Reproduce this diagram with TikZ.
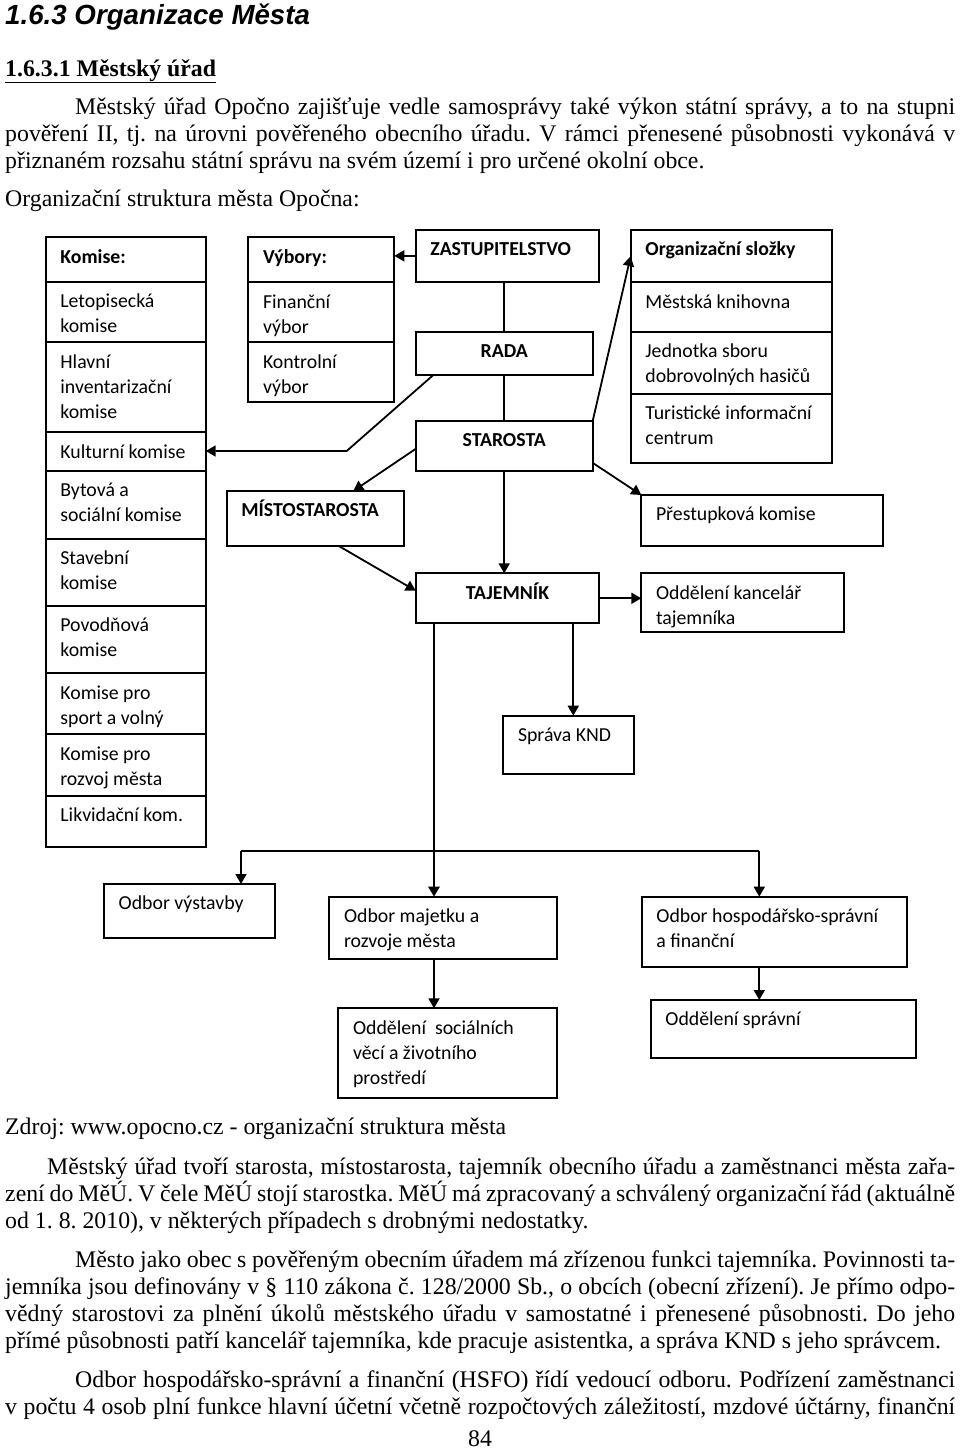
\documentclass[tikz,border=0pt]{standalone}
\usepackage{fontspec}
\setmainfont{Liberation Serif}
\newfontfamily\diagfont{Carlito}
\newfontfamily\headfont{Liberation Sans}
\usetikzlibrary{arrows.meta}
\newcommand\orgfont{\diagfont\fontsize{19.8}{25}\selectfont}
\newcommand\bodyfont{\fontsize{23.8}{27}\selectfont}
\frenchspacing
\begin{document}
\begin{tikzpicture}[x=1pt,y=-1pt,>={Triangle[length=10pt,width=11pt]},
  cell/.style={draw,line width=1.8pt,inner sep=0pt,outer sep=0pt},
  lbl/.style={inner sep=0pt,anchor=north west,align=left,font=\orgfont},
  txt/.style={inner sep=0pt,anchor=base west,font=\bodyfont},
  link/.style={->,line width=1.8pt}]
 \useasboundingbox (0,0) rectangle (960,1449);
 % box: name, left, top, right, bottom, text
 \def\orgcell#1#2#3#4#5#6{%
  \node[cell,minimum width=#4-#2,minimum height=#5-#3] (#1) at ({(#2+#4)/2},{(#3+#5)/2}) {};
  \node[lbl] (#1-t) at ([xshift=14.5pt,yshift=-8pt]#1.north west) {\strut#6};}
 \def\orgcellc#1#2#3#4#5#6{%
  \node[cell,minimum width=#4-#2,minimum height=#5-#3] (#1) at ({(#2+#4)/2},{(#3+#5)/2}) {};
 \node[lbl,anchor=north] (#1-t) at ([yshift=-8pt]#1.north) {\strut#6};}

 \node[txt] (h1) at (5,24) {\headfont\bfseries\itshape\fontsize{27.7}{30}\selectfont 1.6.3 Organizace Města};
 \node[txt] (h2) at (5,76) {\textbf{\underline{1.6.3.1 Městský úřad}}};
 \node[txt] (p1a) at (75,114) {\makebox[880pt][s]{Městský úřad Opočno zajišťuje vedle samosprávy také výkon státní správy, a to na stupni}};
 \node[txt] (p1b) at (5,141) {\makebox[950pt][s]{pověření II, tj. na úrovni pověřeného obecního úřadu. V rámci přenesené působnosti vykonává v}};
 \node[txt] (p1c) at (5,168) {přiznaném rozsahu státní správu na svém území i pro určené okolní obce.};
 \node[txt] (cap) at (5,206) {Organizační struktura města Opočna:};

 % komise
 \orgcell{k0}{45.7}{237.3}{205.7}{281.7}{\textbf{Komise:}}
 \orgcell{k1}{45.7}{281.7}{205.7}{342.3}{Letopisecká\\komise}
 \orgcell{k2}{45.7}{342.3}{205.7}{432.3}{Hlavní\\inventarizační\\komise}
 \orgcell{k3}{45.7}{432.3}{205.7}{470.7}{Kulturní komise}
 \orgcell{k4}{45.7}{470.7}{205.7}{539}{Bytová a\\sociální komise}
 \orgcell{k5}{45.7}{539}{205.7}{605.7}{Stavební\\komise}
 \orgcell{k6}{45.7}{605.7}{205.7}{673.3}{Povodňová\\komise}
 \orgcell{k7}{45.7}{673.3}{205.7}{734.3}{Komise pro\\sport a volný}
 \orgcell{k8}{45.7}{734.3}{205.7}{795.7}{Komise pro\\rozvoj města}
 \orgcell{k9}{45.7}{795.7}{205.7}{847.3}{Likvidační kom.}
 % vybory
 \orgcell{v0}{248.3}{237.3}{394.3}{282.3}{\textbf{Výbory:}}
 \orgcell{v1}{248.3}{282.3}{394.3}{342.3}{Finanční\\výbor}
 \orgcell{v2}{248.3}{342.3}{394.3}{402.3}{Kontrolní\\výbor}
 % vedeni
 \orgcell{zast}{415.7}{230}{599.3}{281.7}{\textbf{ZASTUPITELSTVO}}
 \orgcellc{rada}{415.7}{331.7}{592.7}{375}{\textbf{RADA}}
 \orgcellc{star}{415.7}{421}{592.7}{470.7}{\textbf{STAROSTA}}
 \orgcell{mist}{226.7}{491}{404}{545.7}{\textbf{MÍSTOSTAROSTA}}
 \orgcellc{taj}{415.7}{573.3}{599.3}{623.3}{\textbf{TAJEMNÍK}}
 % organizacni slozky
 \orgcell{o0}{630.7}{230}{831.7}{282.3}{\textbf{Organizační složky}}
 \orgcell{o1}{630.7}{282.3}{831.7}{331.7}{Městská knihovna}
 \orgcell{o2}{630.7}{331.7}{831.7}{394}{Jednotka sboru\\dobrovolných hasičů}
 \orgcell{o3}{630.7}{394}{831.7}{463.3}{Turistické informační\\centrum}
 \orgcell{prest}{641.3}{495}{883}{545.7}{Přestupková komise}
 \orgcell{kanc}{641.3}{573.3}{844}{632}{Oddělení kancelář\\tajemníka}
 \orgcell{knd}{503.3}{715.7}{634}{773.7}{Správa KND}
 % odbory
 \orgcell{vyst}{104}{884}{275}{938}{Odbor výstavby}
 \orgcell{maj}{329.3}{896.7}{556.7}{959}{Odbor majetku a\\rozvoje města}
 \orgcell{soc}{338.3}{1008.3}{556.7}{1098.3}{Oddělení\ \ sociálních\\věcí a životního\\prostředí}
 \orgcell{hosp}{641.7}{896.7}{906.7}{967.3}{Odbor hospodářsko-správní\\a finanční}
 \orgcell{spr}{650.7}{1000}{916}{1058.3}{Oddělení správní}

 \draw[link] (zast.west) -- (zast.west -| v0.east);
 \draw[line width=1.8pt] (rada.north |- zast.south) -- (rada.north);
 \draw[line width=1.8pt] (rada.south) -- (star.north);
 \draw[link] (star.south) -- (star.south |- taj.north);
 \coordinate (r1) at ([xshift=17.6pt]rada.south west);
 \coordinate (r2) at (346.7,451);
 \draw[link] (r1) -- (r2) -- (r2 -| k3.east);
 \coordinate (m1) at ([xshift=126.6pt]mist.north west);
 \draw[link] ([yshift=-3pt]star.west) -- (m1);
 \draw[link] (star.north east) -- (o0.west);
 \draw[link] ([yshift=-17pt]star.east) -- (prest.north west);
 \coordinate (m2) at ([xshift=111.6pt]mist.south west);
 \draw[link] (m2) -- ([yshift=7.6pt]taj.west);
 \draw[link] (taj.east) -- (taj.east -| kanc.west);
 \coordinate (t1) at ([xshift=157.6pt]taj.south west);
 \draw[link] (t1) -- (t1 |- knd.north);
 \coordinate (t2) at ([xshift=18.3pt]taj.south west);
 \draw[link,line width=2.6pt] (t2) -- (t2 |- maj.north);
 \coordinate (busL) at (241,851);
 \coordinate (busR) at (759.3,851);
 \draw[line width=1.4pt] (busL) -- (busR);
 \draw[link] (busL) -- (busL |- vyst.north);
 \draw[link] (busR) -- (busR |- hosp.north);
 \draw[link] (t2 |- maj.south) -- (t2 |- soc.north);
 \draw[link] (busR |- hosp.south) -- (busR |- spr.north);

 \node[txt] (src) at (5,1134) {Zdroj: www.opocno.cz - organizační struktura města};
 \node[txt] (p2a) at (47,1174) {\makebox[908pt][s]{Městský úřad tvoří starosta, místostarosta, tajemník obecního úřadu a zaměstnanci města zařa-}};
 \node[txt] (p2b) at (5,1201) {\makebox[950pt][s]{zení do MěÚ. V čele MěÚ stojí starostka. MěÚ má zpracovaný a schválený organizační řád (aktuálně}};
 \node[txt] (p2c) at (5,1228) {od 1. 8. 2010), v některých případech s drobnými nedostatky.};
 \node[txt] (p3a) at (75,1267) {\makebox[880pt][s]{Město jako obec s pověřeným obecním úřadem má zřízenou funkci tajemníka. Povinnosti ta-}};
 \node[txt] (p3b) at (5,1294) {\makebox[950pt][s]{jemníka jsou definovány v § 110 zákona č. 128/2000 Sb., o obcích (obecní zřízení). Je přímo odpo-}};
 \node[txt] (p3c) at (5,1321) {\makebox[950pt][s]{vědný starostovi za plnění úkolů městského úřadu v samostatné i přenesené působnosti. Do jeho}};
 \node[txt] (p3d) at (5,1348) {přímé působnosti patří kancelář tajemníka, kde pracuje asistentka, a správa KND s jeho správcem.};
 \node[txt] (p4a) at (75,1387) {\makebox[880pt][s]{Odbor hospodářsko-správní a finanční (HSFO) řídí vedoucí odboru. Podřízení zaměstnanci}};
 \node[txt] (p4b) at (5,1414) {\makebox[950pt][s]{v počtu 4 osob plní funkce hlavní účetní včetně rozpočtových záležitostí, mzdové účtárny, finanční}};
 \node[txt,anchor=base] (pg) at (480,1446) {84};
\end{tikzpicture}
\end{document}
